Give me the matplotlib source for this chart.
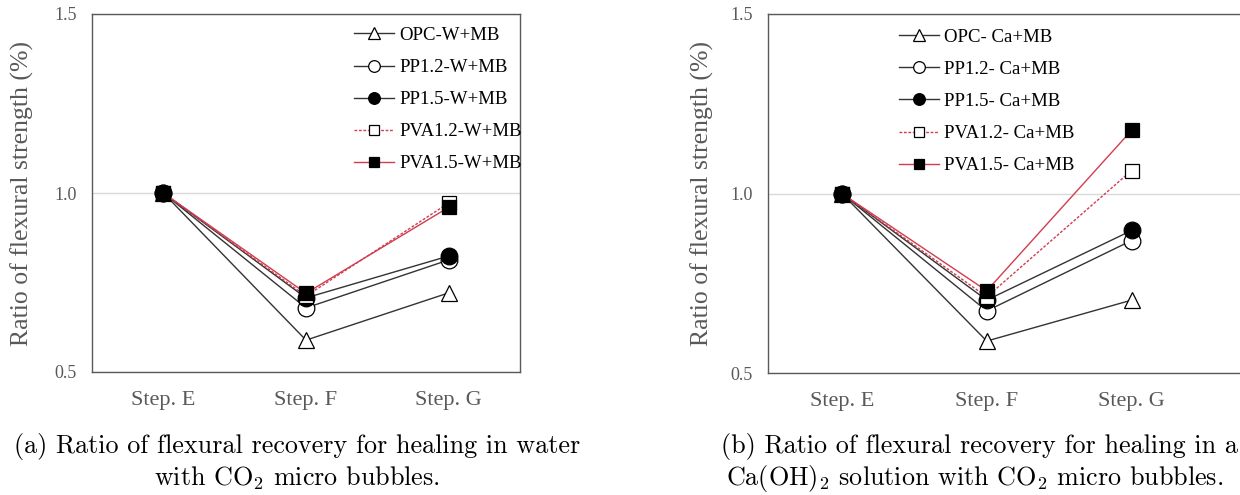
import matplotlib
matplotlib.use("Agg")
import matplotlib.pyplot as plt

steps = ['Step. E', 'Step. F', 'Step. G']

# healing in water + CO2 micro bubbles
water_names = ['OPC-W+MB', 'PP1.2-W+MB', 'PP1.5-W+MB', 'PVA1.2-W+MB', 'PVA1.5-W+MB']
opc_w = [1.0, 0.589, 0.721]
pp12_w = [1.0, 0.679, 0.813]
pp15_w = [1.0, 0.707, 0.824]
pva12_w = [1.0, 0.712, 0.972]
pva15_w = [1.0, 0.720, 0.960]

# healing in Ca(OH)2 + CO2 micro bubbles
ca_names = ['OPC- Ca+MB', 'PP1.2- Ca+MB', 'PP1.5- Ca+MB', 'PVA1.2- Ca+MB', 'PVA1.5- Ca+MB']
opc_ca = [1.0, 0.589, 0.703]
pp12_ca = [1.0, 0.673, 0.869]
pp15_ca = [1.0, 0.703, 0.897]
pva12_ca = [1.0, 0.712, 1.064]
pva15_ca = [1.0, 0.729, 1.176]

yticks = [0.5, 1.0, 1.5]

serif = ['Liberation Serif', 'DejaVu Serif']
gray = '#595959'
dark = '#333333'
red = '#d23c4e'

styles = [
    dict(color=dark, ls='-', marker='^', mfc='white', mec='black', ms=12),
    dict(color=dark, ls='-', marker='o', mfc='white', mec='black', ms=12),
    dict(color=dark, ls='-', marker='o', mfc='black', mec='black', ms=12),
    dict(color=red, ls=(0, (2, 1.2)), marker='s', mfc='white', mec='black', ms=9.5),
    dict(color=red, ls='-', marker='s', mfc='black', mec='black', ms=9.5),
]

fig = plt.figure(figsize=(12.4, 4.95), dpi=100)
W, H = 1240, 495


def panel(rect, series, names, xlim, leg_anchor):
    ax = fig.add_axes(rect)
    x = range(len(steps))
    for vals, name, st in zip(series, names, styles):
        ax.plot(x, vals, lw=1.0, mew=0.9, label=name, **st)
    ax.set_xlim(*xlim)
    ax.set_ylim(0.5, 1.5)
    ax.set_yticks(yticks)
    ax.set_yticklabels(['%.1f' % v for v in yticks])
    ax.set_xticks(list(x))
    ax.set_xticklabels(steps)
    ax.grid(axis='y', color='#d9d9d9', lw=1.0)
    ax.set_axisbelow(True)
    for s in ax.spines.values():
        s.set_color(gray)
        s.set_linewidth(1.0)
    ax.tick_params(length=0)
    ax.tick_params(axis='y', pad=11, colors=gray, labelsize=13)
    ax.tick_params(axis='x', pad=14, colors=gray, labelsize=16)
    for t in ax.get_xticklabels() + ax.get_yticklabels():
        t.set_family(serif)
    ax.set_ylabel('Ratio of flexural strength (%)', fontsize=18.5, color=gray,
                  family=serif)
    ax.legend(loc='upper left', bbox_to_anchor=leg_anchor, frameon=False,
              prop={'family': serif, 'size': 13.5}, markerscale=0.7,
              handlelength=2.1, handletextpad=0.3, labelspacing=0.8,
              borderaxespad=0)
    return ax


ax1 = panel([92 / W, (495 - 372) / H, 428 / W, 358 / H],
            [opc_w, pp12_w, pp15_w, pva12_w, pva15_w], water_names,
            (-0.5, 2.5), (0.595, 0.985))
ax1.yaxis.set_label_coords(-0.135, 0.5)

ax2 = panel([768 / W, (495 - 373) / H, (1262 - 768) / W, 359 / H],
            [opc_ca, pp12_ca, pp15_ca, pva12_ca, pva15_ca], ca_names,
            (-0.51, 2.9), (0.251, 0.98))
ax2.yaxis.set_label_coords(-0.11, 0.5)

cap = dict(family='cmr10', fontsize=18.8, color='black')
plt.rcParams['mathtext.fontset'] = 'cm'
fig.text(297 / W, 1 - 447 / H, '(a) Ratio of flexural recovery for healing in water',
         ha='center', va='center', **cap)
fig.text(297 / W, 1 - 478 / H, 'with CO$_2$ micro bubbles.', ha='center', va='center', **cap)
fig.text(721 / W, 1 - 447 / H, '(b) Ratio of flexural recovery for healing in a',
         ha='left', va='center', **cap)
fig.text(726 / W, 1 - 478 / H, 'Ca(OH)$_2$ solution with CO$_2$ micro bubbles.',
         ha='left', va='center', **cap)

fig.savefig('out.png', dpi=100)
